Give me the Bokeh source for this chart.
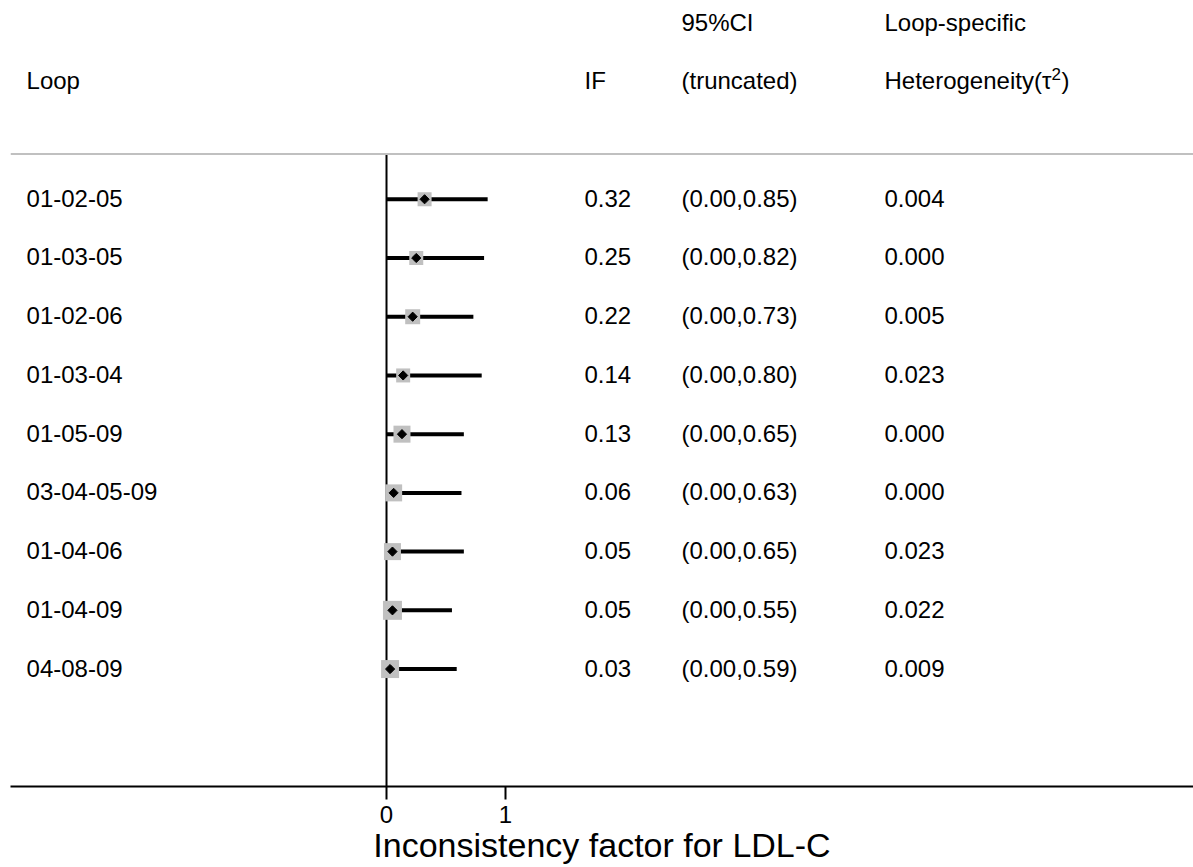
from bokeh.plotting import figure
from bokeh.models import Range1d, FixedTicker, ColumnDataSource, Span
from bokeh.core.properties import value
from bokeh.embed import file_html
from bokeh.resources import INLINE

# Loop-specific inconsistency estimates
loops = ["01-02-05", "01-03-05", "01-02-06", "01-03-04", "01-05-09",
         "03-04-05-09", "01-04-06", "01-04-09", "04-08-09"]
if_est = [0.32, 0.25, 0.22, 0.14, 0.13, 0.06, 0.05, 0.05, 0.03]
ci_low = [0.00, 0.00, 0.00, 0.00, 0.00, 0.00, 0.00, 0.00, 0.00]
ci_high = [0.85, 0.82, 0.73, 0.80, 0.65, 0.63, 0.65, 0.55, 0.59]
tau2 = [0.004, 0.000, 0.005, 0.023, 0.000, 0.000, 0.023, 0.022, 0.009]
# relative weight of each loop (drawn as the grey box size)
weight = [14, 14, 15, 14, 17, 17, 17, 19, 18]
x_ticks = [0, 1]
x_title = "Inconsistency factor for LDL-C"

FONT = "Liberation Sans"
FS = "24px"

rows = [-i for i in range(len(loops))]
src = ColumnDataSource(dict(
    y=rows,
    loop=loops,
    est=if_est,
    lo=ci_low,
    hi=ci_high,
    box=weight,
    if_txt=[f"{v:.2f}" for v in if_est],
    ci_txt=[f"({a:.2f},{b:.2f})" for a, b in zip(ci_low, ci_high)],
    tau_txt=[f"{t:.3f}" for t in tau2],
))

p = figure(width=1193, height=867, output_backend="svg", toolbar_location=None,
           x_range=Range1d(-3.160, 6.782), y_range=Range1d(-10.0, 3.385),
           min_border_left=10, min_border_right=0, min_border_top=0,
           min_border_bottom=81)
p.outline_line_color = None
p.xgrid.visible = False
p.ygrid.visible = False
p.yaxis.visible = False
p.background_fill_color = "white"
p.border_fill_color = "white"

# x axis
ax = p.xaxis[0]
ax.ticker = FixedTicker(ticks=x_ticks)
ax.minor_tick_line_color = None
ax.major_tick_in = 0
ax.major_tick_out = 13
ax.major_tick_line_width = 2
ax.major_tick_line_color = "black"
ax.axis_line_width = 2
ax.axis_line_color = "black"
ax.major_label_text_font = FONT
ax.major_label_text_font_size = FS
ax.major_label_text_color = "black"
ax.major_label_standoff = 6
ax.axis_label = x_title
ax.axis_label_text_font = FONT
ax.axis_label_text_font_size = "34px"
ax.axis_label_text_font_style = "normal"
ax.axis_label_text_color = "black"
ax.axis_label_standoff = 0

# header separator and null line
p.add_layout(Span(location=0.77, dimension="width", line_color="#c0c0c0", line_width=2))
p.segment(x0=0, y0=0.77, x1=0, y1=-10.0, line_color="black", line_width=2)

# confidence intervals, weight boxes and point estimates
p.segment(x0="lo", y0="y", x1="hi", y1="y", source=src, line_color="black",
          line_width=4, line_cap="butt")
p.rect(x="est", y="y", width="box", height="box", width_units="screen",
       height_units="screen", source=src, fill_color="#c0c0c0", line_color=None)
p.scatter(x="est", y="y", marker="square", size=6.5, angle=0.785398, source=src,
          fill_color="black", line_color="black")

# text columns
col_loop, col_if, col_ci, col_tau = -3.025, 1.664, 2.479, 4.185
txt = dict(text_font=value(FONT), text_font_size=FS, text_color="black",
           text_baseline="middle", text_align="left", y_offset=-1)
p.text(x=col_loop, y="y", text="loop", source=src, **txt)
p.text(x=col_if, y="y", text="if_txt", source=src, **txt)
p.text(x=col_ci, y="y", text="ci_txt", source=src, **txt)
p.text(x=col_tau, y="y", text="tau_txt", source=src, **txt)

# headers
p.text(x=[col_loop, col_if, col_ci, col_tau], y=[2, 2, 2, 2],
       text=["Loop", "IF", "(truncated)", "Heterogeneity(\u03c4"], **txt)
p.text(x=[col_ci, col_tau], y=[3, 3], text=["95%CI", "Loop-specific"], **txt)
p.text(x=[col_tau], y=[2], text=["2"], x_offset=167, y_offset=-8,
       text_font=value(FONT), text_font_size="17px", text_color="black",
       text_baseline="middle", text_align="left")
p.text(x=[col_tau], y=[2], text=[")"], x_offset=177, y_offset=-1,
       text_font=value(FONT), text_font_size=FS, text_color="black",
       text_baseline="middle", text_align="left")

open("out.html", "w").write(file_html(p, INLINE))
